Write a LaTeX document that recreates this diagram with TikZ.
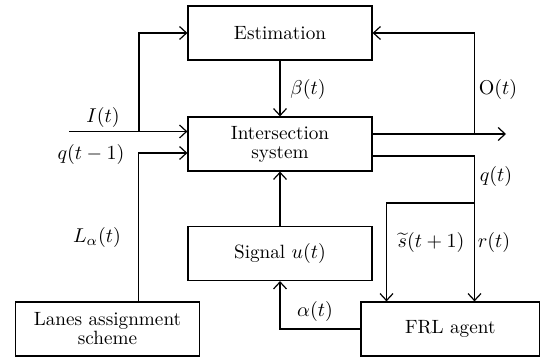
\documentclass[tikz,border=0pt]{standalone}
\usetikzlibrary{arrows.meta}
\begin{document}
\begin{tikzpicture}[x=0.5pt,y=-0.5pt,
  every node/.style={font=\fontsize{9.6pt}{9.5pt}\selectfont},
  blk/.style={draw,line width=0.6pt,inner sep=0pt,minimum width=92pt,minimum height=27pt,align=center},
  arr/.style={line width=0.6pt,-{Straight Barb[length=3.5pt,width=6.5pt]}},
  ln/.style={line width=0.6pt},
  lbl/.style={inner sep=0pt}]
\useasboundingbox (0,0) rectangle (540,357);
\node[blk] (est) at (280,33) {Estimation};
\node[blk] (ints) at (280,144) {Intersection\\system};
\node[blk] (sig) at (280,253.5) {Signal $u(t)$};
\node[blk] (lanes) at (107.5,329) {Lanes assignment\\scheme};
\node[blk,minimum width=89.25pt] (frl) at (450.25,329) {FRL agent};
% coordinates
\coordinate (Iin) at (69,131.5);
\coordinate (Ib) at (139,131.5);
\coordinate (qa) at (138.5,153);
\coordinate (Oout) at (506,134);
\coordinate (Ob) at (474.5,134);
\coordinate (qr) at (474.5,156);
\coordinate (sb) at (474.5,203);
\coordinate (sl) at (386.5,203);
% connectors
\draw[arr] (Iin) -- (Iin -| ints.west);
\draw[arr] (Ib) |- (est.west);
\draw[arr] (lanes.north -| qa) |- (qa -| ints.west);
\draw[arr] (est.south) -- (ints.north);
\draw[arr] (Oout -| ints.east) -- (Oout);
\draw[arr] (Ob) |- (est.east);
\draw[arr] (qr -| ints.east) -- (qr) -- (qr |- frl.north);
\draw[arr] (sb) -- (sl) -- (sl |- frl.north);
\draw[arr] (sig.north) -- (ints.south);
\draw[arr] (frl.west) -| (sig.south);
% labels
\node[lbl] (lI) at (103,118) {$I(t)$};
\node[lbl] (lq1) at (91,155) {$q(t-1)$};
\node[lbl] (lL) at (97,238) {$L_\alpha(t)$};
\node[lbl] (lb) at (308,90) {$\beta(t)$};
\node[lbl] (lO) at (498,90) {$\mathrm{O}(t)$};
\node[lbl] (lq) at (496,177) {$q(t)$};
\node[lbl] (ls) at (431,243) {$\widetilde{s}(t+1)$};
\node[lbl] (lr) at (494,243) {$r(t)$};
\node[lbl] (la) at (315,311) {$\alpha(t)$};
\end{tikzpicture}
\end{document}
